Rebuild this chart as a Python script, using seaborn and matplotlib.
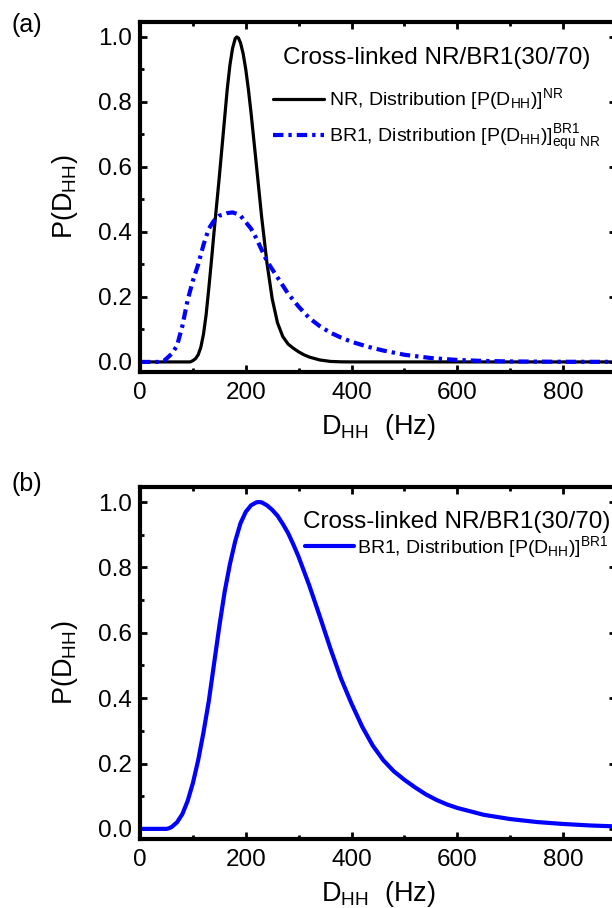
import numpy as np
import pandas as pd
import matplotlib
matplotlib.use("Agg")
import matplotlib.pyplot as plt
import seaborn as sns
from matplotlib.ticker import MultipleLocator

# NR distribution, panel (a)
nr_x = [0, 50, 95, 100, 105, 110, 115, 120, 125, 130, 135, 140, 145, 150, 155, 160, 165,
        170, 175, 180, 183, 186, 190, 195, 200, 205, 210, 220, 230, 240, 250, 260, 270,
        280, 290, 300, 310, 320, 340, 360, 380, 400, 500, 600, 700, 800, 900]
nr_p = [0, 0, 0, 0.004, 0.01, 0.022, 0.045, 0.085, 0.145, 0.225, 0.31, 0.40, 0.485,
        0.57, 0.66, 0.75, 0.84, 0.913, 0.965, 0.995, 1.0, 0.997, 0.982, 0.949, 0.90,
        0.838, 0.766, 0.607, 0.446, 0.305, 0.194, 0.12, 0.078, 0.055, 0.042, 0.031,
        0.022, 0.015, 0.006, 0.0015, 0.0003, 0, 0, 0, 0, 0, 0]

# BR1 distribution equivalent to NR, panel (a)
br1a_x = [0, 40, 45, 50, 60, 70, 80, 90, 100, 110, 120, 130, 140, 150, 160, 165, 175,
          185, 190, 200, 210, 220, 230, 240, 250, 260, 280, 300, 320, 340, 360, 380,
          400, 430, 460, 500, 550, 600, 650, 700, 800, 900]
br1a_p = [0, 0, 0.003, 0.01, 0.025, 0.05, 0.11, 0.19, 0.25, 0.30, 0.36, 0.41, 0.435,
          0.45, 0.455, 0.458, 0.46, 0.455, 0.45, 0.43, 0.41, 0.38, 0.345, 0.31, 0.285,
          0.26, 0.21, 0.17, 0.135, 0.11, 0.09, 0.075, 0.062, 0.047, 0.035, 0.022,
          0.012, 0.006, 0.003, 0.0015, 0.0005, 0.0002]

# BR1 distribution, panel (b)
br1b_x = [0, 50, 55, 60, 70, 80, 90, 100, 110, 120, 130, 140, 150, 160, 170, 180, 190,
          200, 210, 220, 225, 230, 240, 250, 260, 270, 280, 290, 300, 320, 340, 360,
          380, 400, 420, 440, 460, 480, 500, 520, 540, 560, 580, 600, 650, 700, 750,
          800, 850, 900]
br1b_p = [0, 0, 0.002, 0.006, 0.02, 0.045, 0.085, 0.14, 0.21, 0.295, 0.39, 0.505, 0.62,
          0.725, 0.81, 0.88, 0.935, 0.97, 0.99, 0.999, 1.0, 0.999, 0.99, 0.976, 0.958,
          0.933, 0.905, 0.87, 0.832, 0.745, 0.65, 0.552, 0.46, 0.383, 0.313, 0.255,
          0.21, 0.176, 0.15, 0.127, 0.106, 0.089, 0.075, 0.064, 0.043, 0.030, 0.021,
          0.015, 0.0105, 0.0075]

sns.set_theme(style="ticks")
plt.rcParams.update({
    "font.family": ["Liberation Sans", "DejaVu Sans"],
    "mathtext.default": "regular",
    "text.color": "black",
    "axes.labelcolor": "black",
    "xtick.color": "black",
    "ytick.color": "black",
    "axes.edgecolor": "black",
    "axes.linewidth": 3,
    "xtick.direction": "in",
    "ytick.direction": "in",
    "xtick.major.size": 5,
    "ytick.major.size": 5,
    "xtick.minor.size": 3,
    "ytick.minor.size": 3,
    "xtick.major.width": 2,
    "ytick.major.width": 2,
    "xtick.minor.width": 2,
    "ytick.minor.width": 2,
    "xtick.labelsize": 17.5,
    "ytick.labelsize": 17.5,
    "axes.labelsize": 19.5,
})

fig = plt.figure(figsize=(6.12, 9.08), dpi=100)
W, H = 612, 908
DASHDOT = (0, (2.5, 1.2, 0.8, 1.2))


def make_axes(top, bottom):
    return fig.add_axes([140 / W, 1 - bottom / H, 476 / W, (bottom - top) / H])


def style_axes(ax):
    ax.set_xlim(0, 900)
    ax.set_ylim(-0.031, 1.046)
    ax.xaxis.set_major_locator(MultipleLocator(200))
    ax.xaxis.set_minor_locator(MultipleLocator(100))
    ax.yaxis.set_major_locator(MultipleLocator(0.2))
    ax.yaxis.set_minor_locator(MultipleLocator(0.1))
    ax.tick_params(which="both", top=True, right=True)
    ax.tick_params(axis="y", pad=6)
    ax.tick_params(axis="x", pad=7)
    ax.set_xlabel(r"D$_{HH}$  (Hz)")
    ax.set_ylabel(r"P(D$_{HH}$)")
    ax.xaxis.set_label_coords(0.5, -0.115)
    ax.yaxis.set_label_coords(-0.127, 0.5)


# panel (a)
ax1 = make_axes(22, 372)
df_nr = pd.DataFrame({"D": nr_x, "P": nr_p})
df_br1a = pd.DataFrame({"D": br1a_x, "P": br1a_p})
sns.lineplot(data=df_nr, x="D", y="P", ax=ax1, color="black", linewidth=2.3,
             label=r"NR, Distribution [P(D$_{HH}$)]$^{NR}$")
sns.lineplot(data=df_br1a, x="D", y="P", ax=ax1, color="#0000ff", linewidth=3,
             label=r"BR1, Distribution [P(D$_{HH}$)]$^{BR1}_{equ\ NR}$")
ax1.lines[1].set_linestyle(DASHDOT)
style_axes(ax1)
leg1 = ax1.legend(title="Cross-linked NR/BR1(30/70)", loc="upper left",
                  bbox_to_anchor=((273 - 140) / 476, (372 - 47) / 350),
                  frameon=False, fontsize=14, title_fontsize=17.5,
                  borderpad=0, borderaxespad=0, handlelength=2.6,
                  handletextpad=0.3, labelspacing=0.55)
leg1.get_lines()[1].set_linestyle(DASHDOT)
leg1._legend_box.sep = 12.5

# panel (b)
ax2 = make_axes(487, 839)
df_br1b = pd.DataFrame({"D": br1b_x, "P": br1b_p})
sns.lineplot(data=df_br1b, x="D", y="P", ax=ax2, color="#0000ff", linewidth=3,
             label=r"BR1, Distribution [P(D$_{HH}$)]$^{BR1}$")
style_axes(ax2)
leg2 = ax2.legend(title="Cross-linked NR/BR1(30/70)", loc="upper left",
                  bbox_to_anchor=((303 - 140) / 476, (839 - 511) / 352),
                  frameon=False, fontsize=14, title_fontsize=17.5,
                  borderpad=0, borderaxespad=0, handlelength=2.5,
                  handletextpad=0.2, labelspacing=0.3)
leg2._legend_box.sep = 0.5

fig.text(27 / W, 1 - 25 / H, "(a)", fontsize=18, ha="center", va="center")
fig.text(27 / W, 1 - 484 / H, "(b)", fontsize=18, ha="center", va="center")

fig.savefig("out.png", dpi=100)
